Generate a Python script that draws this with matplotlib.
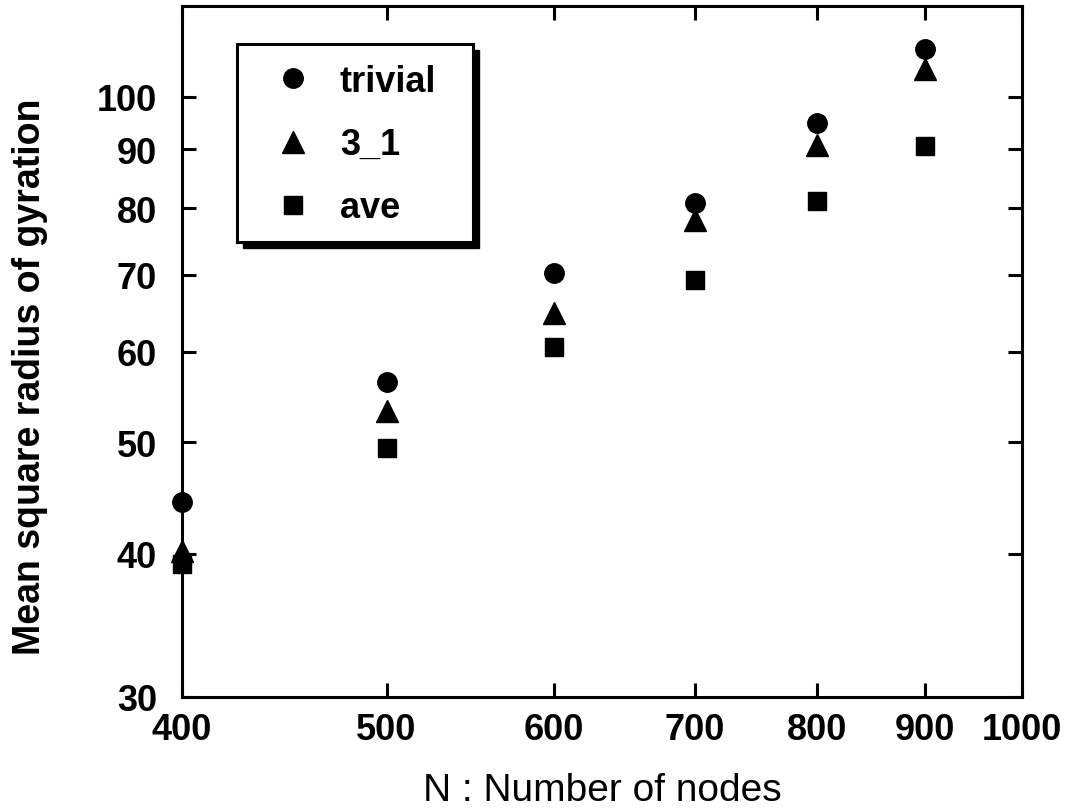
import matplotlib
matplotlib.use("Agg")
import matplotlib.pyplot as plt
from matplotlib.patches import Rectangle
from matplotlib.ticker import NullLocator, FixedLocator

# data
nodes = [400, 500, 600, 700, 800, 900]
trivial = [44.4, 56.4, 70.2, 80.8, 94.9, 110.1]
knot31 = [40.2, 53.3, 64.8, 78.1, 90.8, 105.8]
ave = [39.2, 49.4, 60.5, 69.2, 81.2, 90.6]

xticks = [400, 500, 600, 700, 800, 900, 1000]
yticks = [30, 40, 50, 60, 70, 80, 90, 100]

plt.rcParams['font.family'] = ['Liberation Sans', 'DejaVu Sans']

W, H = 1081, 812
fig = plt.figure(figsize=(W / 100, H / 100), dpi=100)
# axes box in pixels: left 182, right 1022, top 7, bottom 698
ax = fig.add_axes([182 / W, (H - 698) / H, 840 / W, 691 / H])

ax.set_xscale('log')
ax.set_yscale('log')
ax.set_xlim(400, 1000)
ax.set_ylim(30, 120)

ax.plot(nodes, trivial, 'o', color='black', markersize=14, label='trivial', clip_on=False, zorder=5)
ax.plot(nodes, knot31, '^', color='black', markersize=16, label='3_1', clip_on=False, zorder=5)
ax.plot(nodes, ave, 's', color='black', markersize=13, label='ave', clip_on=False, zorder=5)

ax.xaxis.set_major_locator(FixedLocator(xticks))
ax.yaxis.set_major_locator(FixedLocator(yticks))
ax.xaxis.set_minor_locator(NullLocator())
ax.yaxis.set_minor_locator(NullLocator())
ax.set_xticklabels([str(v) for v in xticks], fontsize=26, fontweight='bold')
ax.set_yticklabels([str(v) for v in yticks], fontsize=26, fontweight='bold')
ax.tick_params(which='both', direction='in', top=True, right=True, length=10, width=2.2)
ax.tick_params(axis='x', pad=11)
ax.tick_params(axis='y', pad=18)
for s in ax.spines.values():
    s.set_linewidth(2.2)

ax.set_xlabel('N : Number of nodes', fontsize=28)
ax.xaxis.set_label_coords(0.5, -0.108)
ax.xaxis.label.set_va('top')
ax.set_ylabel('Mean square radius of gyration', fontsize=27, fontweight='bold')
ax.yaxis.set_label_coords(-0.16, 0.4645)

# legend box with a hard black shadow, as in the original
bx, by, bw, bh = 0.0655, 0.658, 0.2805, 0.287
ax.add_patch(Rectangle((bx + 0.007, by - 0.008), bw, bh, transform=ax.transAxes,
                       facecolor='black', edgecolor='black', zorder=6))
ax.add_patch(Rectangle((bx, by), bw, bh, transform=ax.transAxes,
                       facecolor='white', edgecolor='black', linewidth=2.2, zorder=7))
leg = ax.legend(loc='upper left', bbox_to_anchor=(0.1107, 0.916), frameon=False,
                borderpad=0, borderaxespad=0, handlelength=1.0, handletextpad=0.8,
                labelspacing=0.78, prop={'size': 26, 'weight': 'bold'})
leg.set_zorder(8)

fig.savefig('out.png', dpi=100)
